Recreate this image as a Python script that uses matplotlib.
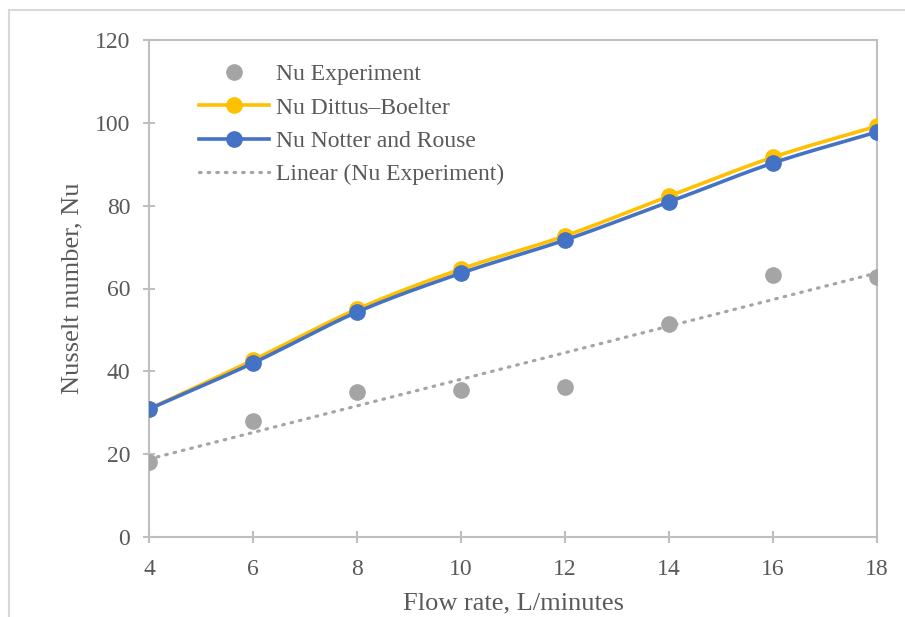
import numpy as np
import matplotlib
matplotlib.use("Agg")
import matplotlib.pyplot as plt
from matplotlib.patches import Rectangle

# data
flow_rate = [4, 6, 8, 10, 12, 14, 16, 18]
nu_experiment = [18.1, 28.0, 35.0, 35.5, 36.2, 51.4, 63.3, 62.8]
nu_dittus_boelter = [30.9, 42.7, 55.0, 64.7, 72.7, 82.3, 91.7, 99.2]
nu_notter_rouse = [30.9, 42.0, 54.3, 63.7, 71.7, 80.9, 90.3, 97.8]

x_ticks = [4, 6, 8, 10, 12, 14, 16, 18]
y_ticks = [0, 20, 40, 60, 80, 100, 120]


def smooth(xs, ys, n=30):
    """Catmull-Rom curve through the points, like Excel's smoothed line."""
    pts = np.column_stack([xs, ys]).astype(float)
    p = np.vstack([2 * pts[0] - pts[1], pts, 2 * pts[-1] - pts[-2]])
    out = []
    t = np.linspace(0, 1, n)[:, None]
    for i in range(1, len(p) - 2):
        p0, p1, p2, p3 = p[i - 1], p[i], p[i + 1], p[i + 2]
        seg = 0.5 * ((2 * p1) + (-p0 + p2) * t + (2 * p0 - 5 * p1 + 4 * p2 - p3) * t ** 2
                     + (-p0 + 3 * p1 - 3 * p2 + p3) * t ** 3)
        out.append(seg if i == 1 else seg[1:])
    out = np.vstack(out)
    return out[:, 0], out[:, 1]


plt.rcParams['font.family'] = ['Liberation Serif', 'DejaVu Serif']
text_col = '#595959'
grid_col = '#BFBFBF'
yellow = '#FFC000'
blue = '#4472C4'
grey = '#A5A5A5'
dots = (0, (0.5, 2.2))

fig = plt.figure(figsize=(9.05, 6.17), dpi=100)
# outer chart-area border
fig.patches.append(Rectangle((9 / 905, -0.1), 1.0, (617 - 10) / 617 + 0.1,
                             transform=fig.transFigure, fill=False,
                             edgecolor='#D9D9D9', linewidth=1.5))

ax = fig.add_axes([149 / 905, 80 / 617, 728 / 905, 497 / 617])

x = np.array(flow_rate, dtype=float)

# experiment points + linear trend
ax.plot(x, nu_experiment, 'o', color=grey, markersize=11, zorder=3,
        label='Nu Experiment')

sx, sy = smooth(x, nu_dittus_boelter)
ax.plot(sx, sy, '-', color=yellow, linewidth=2.6, zorder=4)
ax.plot(x, nu_dittus_boelter, 'o', color=yellow, markersize=11, zorder=4)

sx, sy = smooth(x, nu_notter_rouse)
ax.plot(sx, sy, '-', color=blue, linewidth=2.6, zorder=5)
ax.plot(x, nu_notter_rouse, 'o', color=blue, markersize=11, zorder=5)

coef = np.polyfit(x, nu_experiment, 1)
ax.plot(x, np.polyval(coef, x), linestyle=dots, color=grey,
        linewidth=2.3, dash_capstyle='round', zorder=2)

# legend proxies
h_exp = plt.Line2D([], [], linestyle='none', marker='o', color=grey, markersize=11)
h_db = plt.Line2D([], [], color=yellow, linewidth=2.6, marker='o', markersize=11)
h_nr = plt.Line2D([], [], color=blue, linewidth=2.6, marker='o', markersize=11)
h_lin = plt.Line2D([], [], color=grey, linewidth=2.3, linestyle=dots,
                   dash_capstyle='round')
leg = ax.legend([h_exp, h_db, h_nr, h_lin],
                ['Nu Experiment', 'Nu Dittus\u2013Boelter', 'Nu Notter and Rouse',
                 'Linear (Nu Experiment)'],
                loc='upper left', bbox_to_anchor=(0.056, 0.971), frameon=False,
                fontsize=17, handlelength=2.95, handletextpad=0.3,
                labelspacing=0.5, borderaxespad=0)
for t in leg.get_texts():
    t.set_color(text_col)

ax.set_xlim(4, 18)
ax.set_ylim(0, 120)
ax.set_xticks(x_ticks)
ax.set_yticks(y_ticks)
ax.tick_params(direction='inout', length=9, width=1.5, color=grid_col,
               labelcolor=text_col, labelsize=17)
ax.tick_params(axis='x', pad=11)
ax.tick_params(axis='y', pad=9)
for s in ax.spines.values():
    s.set_color(grid_col)
    s.set_linewidth(1.5)
for lab in ax.get_xticklabels() + ax.get_yticklabels():
    lab.set_clip_on(False)

ax.set_xlabel('Flow rate, L/minutes', fontsize=19, color=text_col, labelpad=9)
ax.set_ylabel('Nusselt number, Nu', fontsize=19, color=text_col, labelpad=8)

fig.savefig('out.png', dpi=100)
